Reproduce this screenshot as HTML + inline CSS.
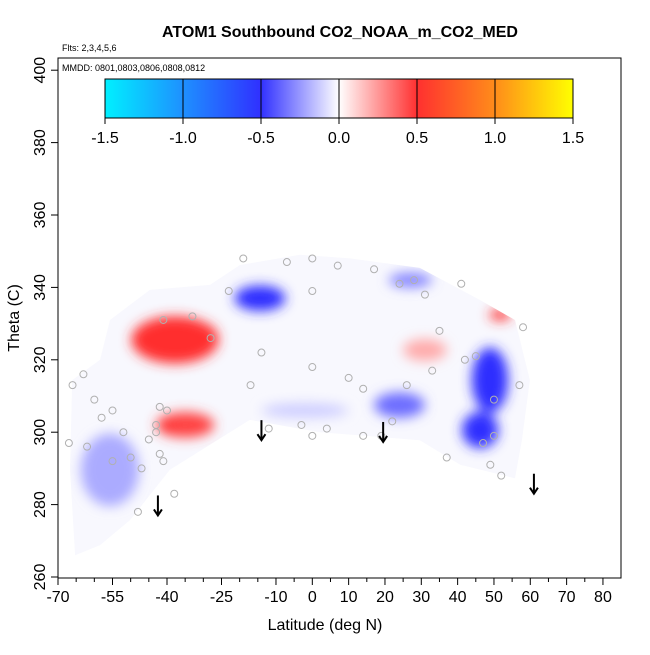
<!DOCTYPE html>
<html><head><meta charset="utf-8"><style>
body{margin:0;background:#fff}
svg text{font-family:"Liberation Sans",sans-serif}
</style></head><body>
<svg id="c" width="650" height="650" xmlns="http://www.w3.org/2000/svg">
<defs>
<linearGradient id="cb" x1="0" x2="1" y1="0" y2="0">
<stop offset="0" stop-color="#00f0ff"/><stop offset="0.167" stop-color="#1e90ff"/>
<stop offset="0.333" stop-color="#3030ff"/><stop offset="0.5" stop-color="#ffffff"/>
<stop offset="0.667" stop-color="#ff3030"/><stop offset="0.833" stop-color="#ff8c1a"/><stop offset="1" stop-color="#ffff00"/>
</linearGradient>
<filter id="bl" x="-50%" y="-50%" width="200%" height="200%"><feGaussianBlur stdDeviation="6"/></filter>
<clipPath id="hc"><path id="hullclip"/></clipPath>
</defs>
<text x="340" y="37" text-anchor="middle" font-size="16" font-weight="bold">ATOM1 Southbound CO2_NOAA_m_CO2_MED</text>
<text x="62" y="51" font-size="9">Flts: 2,3,4,5,6</text>
<rect x="58" y="58" width="563" height="520" fill="none" stroke="#000"/>
<text x="62" y="71" font-size="9">MMDD: 0801,0803,0806,0808,0812</text>
<g id="heat"></g>
<g id="pts"></g>
<g id="arr"></g>
<g id="cbar"></g>
<g id="axes"></g>
<text x="325" y="630" text-anchor="middle" font-size="16">Latitude (deg N)</text>
<text transform="translate(19,318) rotate(-90)" text-anchor="middle" font-size="16">Theta (C)</text>
</svg>
<script>
const xTicks=[-70,-55,-40,-25,-10,0,10,20,30,40,50,60,70,80];
const xMinor=[-65,-60,-50,-45,-35,-30,-20,-15,-5,5,15,25,35,45,55,65,75];
const yTicks=[260,280,300,320,340,360,380,400];
const cbTicks=[-1.5,-1.0,-0.5,0.0,0.5,1.0,1.5];
const hullLat=[-65.3,-66.7,-66.1,-58.4,-55.7,-44.7,-28.2,-19.9,-3.4,10.4,29.6,46.2,55.8,59.9,57.7,55.8,40.7,29.6,2.1,-17.2,-39.2,-50.2,-58.4];
const hullTh=[266,289.6,314.4,320,331,339.3,340.7,346.2,349,348,345.4,336.5,331,314.4,297.8,287.3,291,297.8,300,303.4,289.6,275.7,268.8];
const blobLat=[-37.8,-14.4,-35,48.9,46.2,24,51.7,31,-55.7,27,-40,-30,-2];
const blobTh=[325.5,337,302,314.4,300.6,307.5,332.4,322.7,289.6,342,301,326,306];
const blobVal=[0.75,-0.7,0.45,-0.7,-0.65,-0.35,0.6,0.2,-0.2,-0.3,0.6,0.5,-0.12];
const blobRx=[12,7,8,5,5,7,3,6,8,6,2,4,12];
const blobRy=[6.5,3.5,3.5,9,5,3.5,1.5,3,10,2,1.5,4,2];
const ptLat=[-41,-66,-67,-63,-60,-58,-55,-52,-50,-47,-45,-43,-42,-42,-41,-40,-38,-33,-28,-23,-19,-17,-14,-12,-7,-3,0,0,0,0,4,7,10,14,14,17,19,22,24,26,28,31,33,35,37,41,42,45,47,49,50,50,52,57,58,-55,-48,-43,-62];
const ptTh=[331,313,297,316,309,304,306,300,293,290,298,300,294,307,292,306,283,332,326,339,348,313,322,301,347,302,348,339,318,299,301,346,315,312,299,345,299,303,341,313,342,338,317,328,293,341,320,321,297,291,309,299,288,313,329,292,278,302,296];
const arrLat=[-42.5,-14,19.5,61];
const arrTh=[277,297.8,297.3,283];
const X=l=>58+(l+70)*3.633, Y=t=>577-(t-260)*3.62;
const NS="http://www.w3.org/2000/svg";
function mk(p,tag,a){const e=document.createElementNS(NS,tag);for(const k in a)e.setAttribute(k,a[k]);p.appendChild(e);return e;}
function col(v){const s=Math.min(1,Math.abs(v)/0.5);const c=Math.round(255*(1-s*0.82));return v<0?`rgb(${c},${c},255)`:`rgb(255,${c},${c})`;}
const heat=document.getElementById('heat');
let d=hullLat.map((l,i)=>(i?'L':'M')+X(l).toFixed(1)+','+Y(hullTh[i]).toFixed(1)).join(' ')+'Z';
document.getElementById('hullclip').setAttribute('d',d);
const hull=mk(heat,'path',{d:d,fill:'#f8f8fe'});


const bg=mk(heat,'g',{'clip-path':'url(#hc)'});
const bf=mk(bg,'g',{filter:'url(#bl)'});
blobVal.forEach((v,i)=>{const e=mk(bf,'ellipse',{cx:X(blobLat[i]),cy:Y(blobTh[i]),rx:blobRx[i]*3.633,ry:blobRy[i]*3.62,fill:col(v)});

});
const pts=document.getElementById('pts');
ptLat.forEach((l,i)=>{const e=mk(pts,'circle',{cx:X(l),cy:Y(ptTh[i]),r:3.5,fill:'none',stroke:'#b0b0b0','stroke-width':1});

});
const arr=document.getElementById('arr');
arrLat.forEach((l,i)=>{const x=X(l),y=Y(arrTh[i]);const g=mk(arr,'g',{stroke:'#000','stroke-width':2,fill:'none'});


mk(g,'line',{x1:x,y1:y-20,x2:x,y2:y});mk(g,'polyline',{points:`${x-4},${y-6} ${x},${y} ${x+4},${y-6}`});});
const cb=document.getElementById('cbar');
mk(cb,'rect',{x:105,y:79,width:468,height:39,fill:'url(#cb)',stroke:'#000'});
cbTicks.forEach(v=>{const x=105+(v+1.5)/3*468;mk(cb,'line',{x1:x,x2:x,y1:79,y2:124,stroke:'#000'});
const t=mk(cb,'text',{x:x,y:143,'text-anchor':'middle','font-size':16});t.textContent=v.toFixed(1);

});
const ax=document.getElementById('axes');
xTicks.forEach(v=>{const x=X(v);mk(ax,'line',{x1:x,x2:x,y1:578,y2:585,stroke:'#000'});
const t=mk(ax,'text',{x:x,y:602,'text-anchor':'middle','font-size':16});t.textContent=v;

});
xMinor.forEach(v=>{const x=X(v);mk(ax,'line',{x1:x,x2:x,y1:578,y2:582,stroke:'#000'});});
yTicks.forEach(v=>{const y=Y(v);mk(ax,'line',{x1:51,x2:58,y1:y,y2:y,stroke:'#000'});
const t=mk(ax,'text',{transform:`translate(45,${y}) rotate(-90)`,'text-anchor':'middle','font-size':16});t.textContent=v;

});
</script>
</body></html>
